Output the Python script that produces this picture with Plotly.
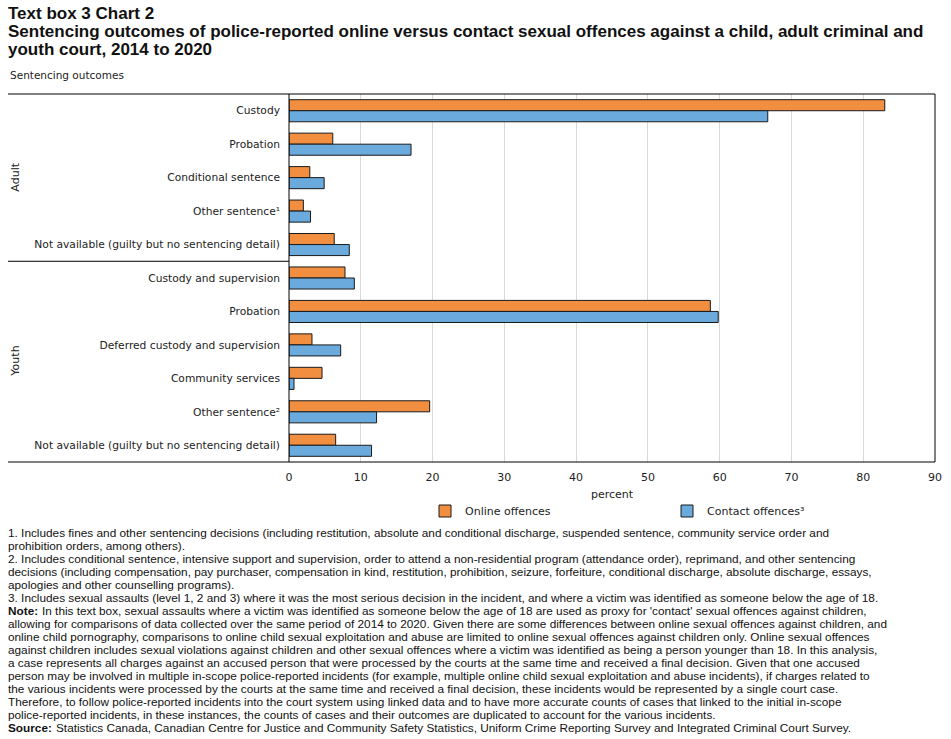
import plotly.graph_objects as go

# ---- data ----
groups = ["Adult"] * 5 + ["Youth"] * 6
categories = [
    "Custody",
    "Probation",
    "Conditional sentence",
    "Other sentence¹",
    "Not available (guilty but no sentencing detail)",
    "Custody and supervision",
    "Probation",
    "Deferred custody and supervision",
    "Community services",
    "Other sentence²",
    "Not available (guilty but no sentencing detail)",
]
online = [83.0, 6.1, 2.9, 2.0, 6.3, 7.8, 58.7, 3.2, 4.6, 19.6, 6.5]
contact = [66.7, 17.0, 4.9, 3.0, 8.4, 9.1, 59.8, 7.2, 0.7, 12.2, 11.5]
x_ticks = [0, 10, 20, 30, 40, 50, 60, 70, 80, 90]

title_lines = [
    "Text box 3 Chart 2",
    "Sentencing outcomes of police-reported online versus contact sexual offences against a child, adult criminal and",
    "youth court, 2014 to 2020",
]
# (bold lead-in, rest of line)
note_lines = [
    ("", "1. Includes fines and other sentencing decisions (including restitution, absolute and conditional discharge, suspended sentence, community service order and"),
    ("", "prohibition orders, among others)."),
    ("", "2. Includes conditional sentence, intensive support and supervision, order to attend a non-residential program (attendance order), reprimand, and other sentencing"),
    ("", "decisions (including compensation, pay purchaser, compensation in kind, restitution, prohibition, seizure, forfeiture, conditional discharge, absolute discharge, essays,"),
    ("", "apologies and other counselling programs)."),
    ("", "3. Includes sexual assaults (level 1, 2 and 3) where it was the most serious decision in the incident, and where a victim was identified as someone below the age of 18."),
    ("Note:", "In this text box, sexual assaults where a victim was identified as someone below the age of 18 are used as proxy for 'contact' sexual offences against children,"),
    ("", "allowing for comparisons of data collected over the same period of 2014 to 2020. Given there are some differences between online sexual offences against children, and"),
    ("", "online child pornography, comparisons to online child sexual exploitation and abuse are limited to online sexual offences against children only. Online sexual offences"),
    ("", "against children includes sexual violations against children and other sexual offences where a victim was identified as being a person younger than 18. In this analysis,"),
    ("", "a case represents all charges against an accused person that were processed by the courts at the same time and received a final decision. Given that one accused"),
    ("", "person may be involved in multiple in-scope police-reported incidents (for example, multiple online child sexual exploitation and abuse incidents), if charges related to"),
    ("", "the various incidents were processed by the courts at the same time and received a final decision, these incidents would be represented by a single court case."),
    ("", "Therefore, to follow police-reported incidents into the court system using linked data and to have more accurate counts of cases that linked to the initial in-scope"),
    ("", "police-reported incidents, in these instances, the counts of cases and their outcomes are duplicated to account for the various incidents."),
    ("Source:", "Statistics Canada, Canadian Centre for Justice and Community Safety Statistics, Uniform Crime Reporting Survey and Integrated Criminal Court Survey."),
]

W, H = 951, 739
L, R, T, B = 289, 16, 94, 277
pw, ph = W - L - R, H - T - B

ypos = list(range(len(categories)))
FONT = "Verdana, 'DejaVu Sans', sans-serif"
NFONT = "'Liberation Sans', Arial, sans-serif"
NSIZE = 11.8

fig = go.Figure()
fig.add_trace(go.Bar(
    y=ypos, x=online, orientation="h", name="Online offences",
    marker=dict(color="#F28E3F", line=dict(color="#1a1a1a", width=1)),
))
fig.add_trace(go.Bar(
    y=ypos, x=contact, orientation="h", name="Contact offences³",
    marker=dict(color="#6AAADC", line=dict(color="#1a1a1a", width=1)),
))

def px_x(px):
    return (px - L) / pw

def px_y(py):
    return (H - B - py) / ph

fig.update_layout(
    width=W, height=H,
    margin=dict(l=L, r=R, t=T, b=B, autoexpand=False),
    paper_bgcolor="white", plot_bgcolor="white",
    barmode="group", bargap=0.34, bargroupgap=0,
    font=dict(family=FONT, size=11, color="#222"),
    showlegend=True,
    legend=dict(orientation="h", x=px_x(425), y=px_y(511), xanchor="left", yanchor="middle",
                entrywidth=197, entrywidthmode="pixels",
                font=dict(family=FONT, size=11, color="#222"),
                itemwidth=30, traceorder="normal"),
    xaxis=dict(range=[0, 90], tickvals=x_ticks, showgrid=True, gridcolor="#d9d9d9", gridwidth=1,
               zeroline=False, showline=False, ticks="", ticklabelstandoff=7,
               tickfont=dict(size=11, family=FONT),
               title=dict(text="percent", font=dict(size=11, family=FONT), standoff=7),
               fixedrange=True),
    yaxis=dict(tickvals=ypos, ticktext=categories, autorange=False,
               range=[len(categories) - 0.5, -0.5],
               showgrid=False, zeroline=False, showline=False, ticks="", ticklabelstandoff=8,
               tickfont=dict(size=10.7, family=FONT), fixedrange=True),
)

# frame lines
line_c = "#000"
fig.add_shape(type="line", xref="paper", yref="paper", x0=px_x(8), x1=1, y0=1, y1=1, line=dict(color=line_c, width=1))
fig.add_shape(type="line", xref="paper", yref="paper", x0=px_x(8), x1=1, y0=0, y1=0, line=dict(color=line_c, width=1))
fig.add_shape(type="line", xref="paper", yref="paper", x0=0, x1=0, y0=0, y1=1, line=dict(color=line_c, width=1))
fig.add_shape(type="line", xref="paper", yref="paper", x0=1, x1=1, y0=0, y1=1, line=dict(color=line_c, width=1))
fig.add_shape(type="line", xref="paper", yref="y", x0=px_x(8), x1=0, y0=4.5, y1=4.5, line=dict(color=line_c, width=1))

# group labels
for gname in ["Adult", "Youth"]:
    idx = [i for i, g in enumerate(groups) if g == gname]
    fig.add_annotation(xref="paper", yref="y", x=px_x(16), y=(idx[0] + idx[-1]) / 2,
                       xanchor="center", text=gname, textangle=-90, showarrow=False,
                       borderpad=0, font=dict(size=11, family=FONT, color="#222"))

# titles
for i, t in enumerate(title_lines):
    fig.add_annotation(xref="paper", yref="paper", x=px_x(6), y=px_y(14 + i * 17.5),
                       xanchor="left", yanchor="middle", align="left", showarrow=False,
                       text="<b>" + t + "</b>",
                       font=dict(size=17, family="'Liberation Sans', Arial, sans-serif", color="#111"))
fig.add_annotation(xref="paper", yref="paper", x=px_x(8), y=px_y(75), xanchor="left", yanchor="middle",
                   showarrow=False, text="Sentencing outcomes",
                   font=dict(size=10.5, family=FONT, color="#222"))

lead_offset = {"Note:": 34, "Source:": 48}
for i, (lead, t) in enumerate(note_lines):
    yy = 532.5 + i * 13.0
    xx = 6
    if lead:
        fig.add_annotation(xref="paper", yref="paper", x=px_x(6), y=px_y(yy),
                           xanchor="left", yanchor="middle", align="left", showarrow=False,
                           text=lead,
                           font=dict(size=NSIZE, family="'Liberation Sans', Arial, sans-serif",
                                     color="#111", weight="bold"))
        xx = 6 + lead_offset[lead]
    fig.add_annotation(xref="paper", yref="paper", x=px_x(xx), y=px_y(yy),
                       xanchor="left", yanchor="middle", align="left", showarrow=False, text=t,
                       font=dict(size=NSIZE, family=NFONT, color="#111"))

fig.write_html("out.html")
